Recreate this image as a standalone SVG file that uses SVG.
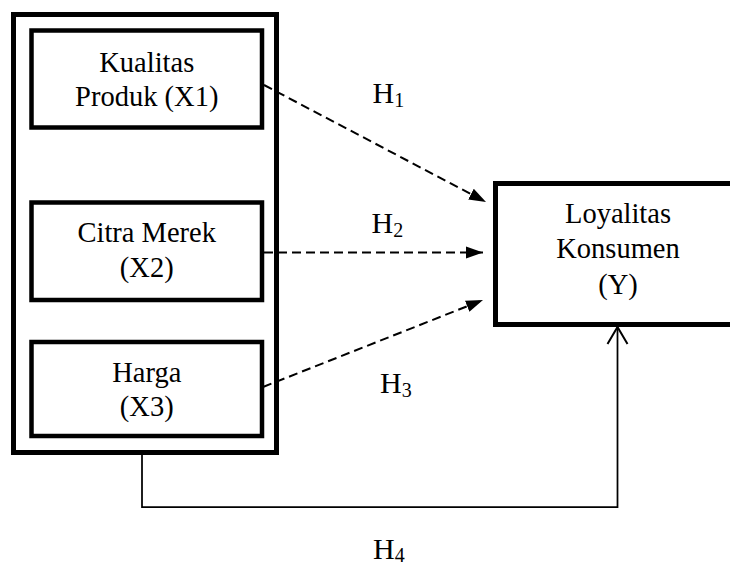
<svg xmlns="http://www.w3.org/2000/svg" width="730" height="565" viewBox="0 0 730 565">
  <style>
    .box { fill: none; stroke: #000; }
    text { font-family: "Liberation Serif", "DejaVu Serif", "Times New Roman", serif; fill: #000; }
    .lbl { font-size: 28.5px; text-anchor: middle; }
    .h { font-size: 30px; }
    .sub { font-size: 20px; }
    .dash { fill: none; stroke: #000; stroke-width: 2; stroke-dasharray: 9 5; }
    .solid { fill: none; stroke: #000; stroke-width: 1.75; }
  </style>
  <defs>
    <marker id="tri" markerUnits="userSpaceOnUse" markerWidth="18" markerHeight="14" refX="17" refY="6" orient="auto" viewBox="0 0 18 12">
      <path d="M0,0 L17,6 L0,12 z" fill="#000"/>
    </marker>
    <marker id="open" markerUnits="userSpaceOnUse" markerWidth="20" markerHeight="24" refX="17" refY="10.5" orient="auto" viewBox="0 0 20 21" overflow="visible">
      <path d="M0,0.5 L17,10.5 L0,20.5" fill="none" stroke="#000" stroke-width="2"/>
    </marker>
  </defs>
  <rect width="730" height="565" fill="#fff"/>

  <g id="connectors">
    <line class="dash" x1="264" y1="85" x2="486" y2="202" marker-end="url(#tri)"/>
    <line class="dash" x1="264" y1="252.5" x2="483" y2="252.5" marker-end="url(#tri)"/>
    <line class="dash" x1="263" y1="387" x2="483" y2="300" marker-end="url(#tri)"/>
    <path class="solid" d="M142,455 V507 H617.5 V327" marker-end="url(#open)"/>
  </g>

  <g id="group-x">
    <rect class="box" x="13.5" y="14.5" width="263" height="438" stroke-width="5"/>
  </g>

  <g id="x1" font-family="Liberation Serif, serif">
    <rect class="box" x="31.5" y="30.5" width="230.5" height="97" stroke-width="4.5"/>
    <text class="lbl" x="146.75" y="72">Kualitas</text>
    <text class="lbl" x="146.75" y="106">Produk (X1)</text>
  </g>

  <g id="x2" font-family="Liberation Serif, serif">
    <rect class="box" x="31.5" y="202.5" width="230.5" height="97.5" stroke-width="4.5"/>
    <text class="lbl" x="146.75" y="242">Citra Merek</text>
    <text class="lbl" x="146.75" y="276.5">(X2)</text>
  </g>

  <g id="x3" font-family="Liberation Serif, serif">
    <rect class="box" x="31.5" y="342" width="230.5" height="94" stroke-width="4.5"/>
    <text class="lbl" x="146.75" y="382">Harga</text>
    <text class="lbl" x="146.75" y="416">(X3)</text>
  </g>

  <g id="y" font-family="Liberation Serif, serif">
    <rect class="box" x="495.5" y="183.5" width="245" height="141" stroke-width="5"/>
    <text class="lbl" x="618" y="223">Loyalitas</text>
    <text class="lbl" x="618" y="258">Konsumen</text>
    <text class="lbl" x="618" y="294">(Y)</text>
  </g>

  <g id="labels" font-family="Liberation Serif, serif">
    <text class="h" x="372.5" y="102.5">H<tspan class="sub" dy="4">1</tspan></text>
    <text class="h" x="371.5" y="233">H<tspan class="sub" dy="4">2</tspan></text>
    <text class="h" x="380" y="393">H<tspan class="sub" dy="4">3</tspan></text>
    <text class="h" x="373" y="559">H<tspan class="sub" dy="3">4</tspan></text>
  </g>
</svg>
